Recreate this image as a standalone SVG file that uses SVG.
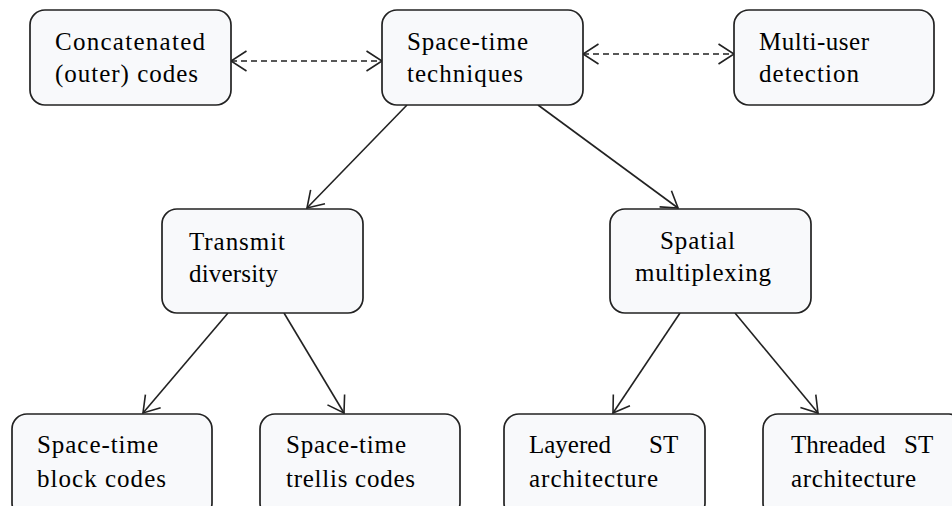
<svg xmlns="http://www.w3.org/2000/svg" width="952" height="506" viewBox="0 0 952 506">
<style>
.box{fill:#f8f9fb;stroke:#222;stroke-width:1.7}
.t{font-family:"Liberation Serif","Times New Roman",serif;font-size:25px;fill:#000}
.c{fill:none;stroke:#222;stroke-width:1.6}
.d{stroke-dasharray:6 4}
</style>
<defs>
<marker id="ah" viewBox="0 0 18 22" refX="16.5" refY="11" markerWidth="18" markerHeight="22" markerUnits="userSpaceOnUse" orient="auto-start-reverse">
<path d="M1,1 L16.5,11 L1,21" fill="none" stroke="#222" stroke-width="1.6"/>
</marker>
</defs>
<rect width="952" height="506" fill="#fff"/>
<g id="connectors">
<line class="c d" x1="231" y1="61" x2="382" y2="61" marker-start="url(#ah)" marker-end="url(#ah)"/>
<line class="c d" x1="583" y1="54" x2="734" y2="54" marker-start="url(#ah)" marker-end="url(#ah)"/>
<line class="c" x1="407" y1="105" x2="307" y2="208" marker-end="url(#ah)"/>
<line class="c" x1="538" y1="105" x2="678" y2="208" marker-end="url(#ah)"/>
<line class="c" x1="228" y1="313" x2="143" y2="413" marker-end="url(#ah)"/>
<line class="c" x1="284" y1="313" x2="344" y2="413" marker-end="url(#ah)"/>
<line class="c" x1="680" y1="313" x2="613" y2="413" marker-end="url(#ah)"/>
<line class="c" x1="735" y1="313" x2="818" y2="413" marker-end="url(#ah)"/>
</g>
<g id="concatenated">
<rect class="box" x="30" y="10" width="201" height="95" rx="15"/>
<text class="t" x="55" y="50" textLength="150" lengthAdjust="spacing">Concatenated</text>
<text class="t" x="55" y="82" textLength="143" lengthAdjust="spacing">(outer) codes</text>
</g>
<g id="spacetime">
<rect class="box" x="382" y="10" width="201" height="95" rx="15"/>
<text class="t" x="407" y="50" textLength="121" lengthAdjust="spacing">Space-time</text>
<text class="t" x="407" y="82" textLength="116" lengthAdjust="spacing">techniques</text>
</g>
<g id="multiuser">
<rect class="box" x="734" y="10" width="200" height="95" rx="15"/>
<text class="t" x="759" y="50" textLength="110" lengthAdjust="spacing">Multi-user</text>
<text class="t" x="759" y="82" textLength="100" lengthAdjust="spacing">detection</text>
</g>
<g id="transmit">
<rect class="box" x="162" y="209" width="201" height="104" rx="15"/>
<text class="t" x="189" y="250" textLength="96" lengthAdjust="spacing">Transmit</text>
<text class="t" x="189" y="282" textLength="89" lengthAdjust="spacing">diversity</text>
</g>
<g id="spatial">
<rect class="box" x="610" y="209" width="201" height="104" rx="15"/>
<text class="t" x="660" y="249" textLength="75" lengthAdjust="spacing">Spatial</text>
<text class="t" x="635" y="281" textLength="136" lengthAdjust="spacing">multiplexing</text>
</g>
<g id="stbc">
<rect class="box" x="12" y="414" width="200" height="104" rx="15"/>
<text class="t" x="37" y="453" textLength="121" lengthAdjust="spacing">Space-time</text>
<text class="t" x="37" y="487" textLength="129" lengthAdjust="spacing">block codes</text>
</g>
<g id="sttc">
<rect class="box" x="260" y="414" width="200" height="104" rx="15"/>
<text class="t" x="286" y="453" textLength="120" lengthAdjust="spacing">Space-time</text>
<text class="t" x="286" y="487" textLength="129" lengthAdjust="spacing">trellis codes</text>
</g>
<g id="layered">
<rect class="box" x="504" y="414" width="201" height="104" rx="15"/>
<text class="t" x="529" y="453">Layered <tspan x="649">ST</tspan></text>
<text class="t" x="529" y="487" textLength="129" lengthAdjust="spacing">architecture</text>
</g>
<g id="threaded">
<rect class="box" x="763" y="414" width="201" height="104" rx="15"/>
<text class="t" x="791" y="453">Threaded <tspan x="904">ST</tspan></text>
<text class="t" x="791" y="487" textLength="125" lengthAdjust="spacing">architecture</text>
</g>
</svg>
